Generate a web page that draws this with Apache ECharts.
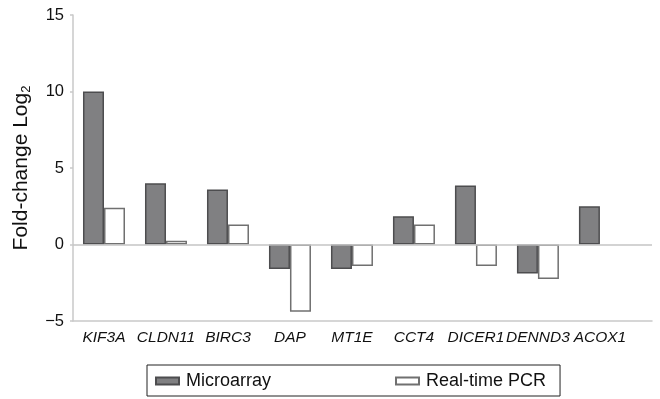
<!DOCTYPE html>
<html>
<head>
<meta charset="utf-8">
<script src="https://cdn.jsdelivr.net/npm/echarts@6/dist/echarts.min.js"></script>
<style>
  html, body { margin: 0; padding: 0; background: #fff; }
  #chart { width: 660px; height: 399px; }
</style>
</head>
<body>
<div id="chart"></div>
<script>
// Genes compared by the two methods
const genes = ['KIF3A', 'CLDN11', 'BIRC3', 'DAP', 'MT1E', 'CCT4', 'DICER1', 'DENND3', 'ACOX1'];
// Log2 fold-change per gene
const microarray = [10.0, 4.0, 3.6, -1.6, -1.6, 1.85, 3.85, -1.9, 2.5];
const realTimePCR = [2.4, 0.25, 1.3, -4.4, -1.4, 1.3, -1.4, -2.25, null];
// Y axis tick values
const yTicks = [-5, 0, 5, 10, 15];

const FONT = '"Liberation Sans", Arial, Helvetica, sans-serif';
const geneIdx = genes.map((g, i) => i);

const chart = echarts.init(document.getElementById('chart'), null, { renderer: 'canvas' });

chart.setOption({
  animation: false,
  backgroundColor: '#ffffff',
  grid: { left: 73, right: 8, top: 15, bottom: 78, containLabel: false },
  xAxis: {
    type: 'value',
    min: -0.5,
    max: 8.84,
    axisLine: { show: true, onZero: false, lineStyle: { color: '#c9c9c9', width: 1.5 } },
    axisTick: { show: false },
    splitLine: { show: false },
    axisLabel: {
      customValues: geneIdx,
      formatter: v => genes[Math.round(v)] || '',
      fontFamily: FONT,
      fontSize: 15.5,
      fontStyle: 'italic',
      color: '#111',
      margin: 9
    }
  },
  yAxis: {
    type: 'value',
    min: yTicks[0],
    max: yTicks[yTicks.length - 1],
    interval: 5,
    name: 'Fold-change Log{sub|2}',
    nameLocation: 'middle',
    nameGap: 40,
    nameTextStyle: {
      fontFamily: FONT,
      fontSize: 21,
      color: '#111',
      rich: {
        sub: { fontFamily: FONT, fontSize: 13, color: '#111', verticalAlign: 'bottom', padding: [10, 0, 0, 0] }
      }
    },
    axisLine: { show: true, onZero: false, lineStyle: { color: '#c9c9c9', width: 1.5 } },
    axisTick: { show: true, length: 3, lineStyle: { color: '#c9c9c9', width: 1.5 } },
    splitLine: { show: false },
    axisLabel: {
      fontFamily: FONT,
      fontSize: 16.5,
      color: '#111',
      margin: 9,
      formatter: v => (v < 0 ? '\u2212' + Math.abs(v) : String(v))
    }
  },
  legend: {
    left: 147,
    top: 365,
    orient: 'horizontal',
    itemWidth: 23,
    itemHeight: 7,
    itemGap: 124,
    padding: [7, 14, 6, 8],
    borderColor: '#222',
    borderWidth: 1,
    icon: 'rect',
    textStyle: { fontFamily: FONT, fontSize: 18, color: '#111', padding: [0, 0, 0, 2] },
    data: ['Microarray', 'Real-time PCR']
  },
  series: [
    {
      name: 'Microarray',
      type: 'bar',
      barWidth: 21,
      barGap: '0%',
      data: geneIdx.map(i => [i, microarray[i]]),
      itemStyle: { color: '#808082', borderColor: '#4d4d4f', borderWidth: 1.5 },
      markLine: {
        silent: true,
        symbol: 'none',
        label: { show: false },
        lineStyle: { color: '#c4c4c4', width: 1.5, type: 'solid' },
        data: [{ yAxis: 0 }]
      }
    },
    {
      name: 'Real-time PCR',
      type: 'bar',
      barWidth: 21,
      barGap: '0%',
      data: geneIdx.map(i => [i, realTimePCR[i]]),
      itemStyle: { color: '#ffffff', borderColor: '#707070', borderWidth: 1.5 }
    }
  ]
});
</script>
</body>
</html>
